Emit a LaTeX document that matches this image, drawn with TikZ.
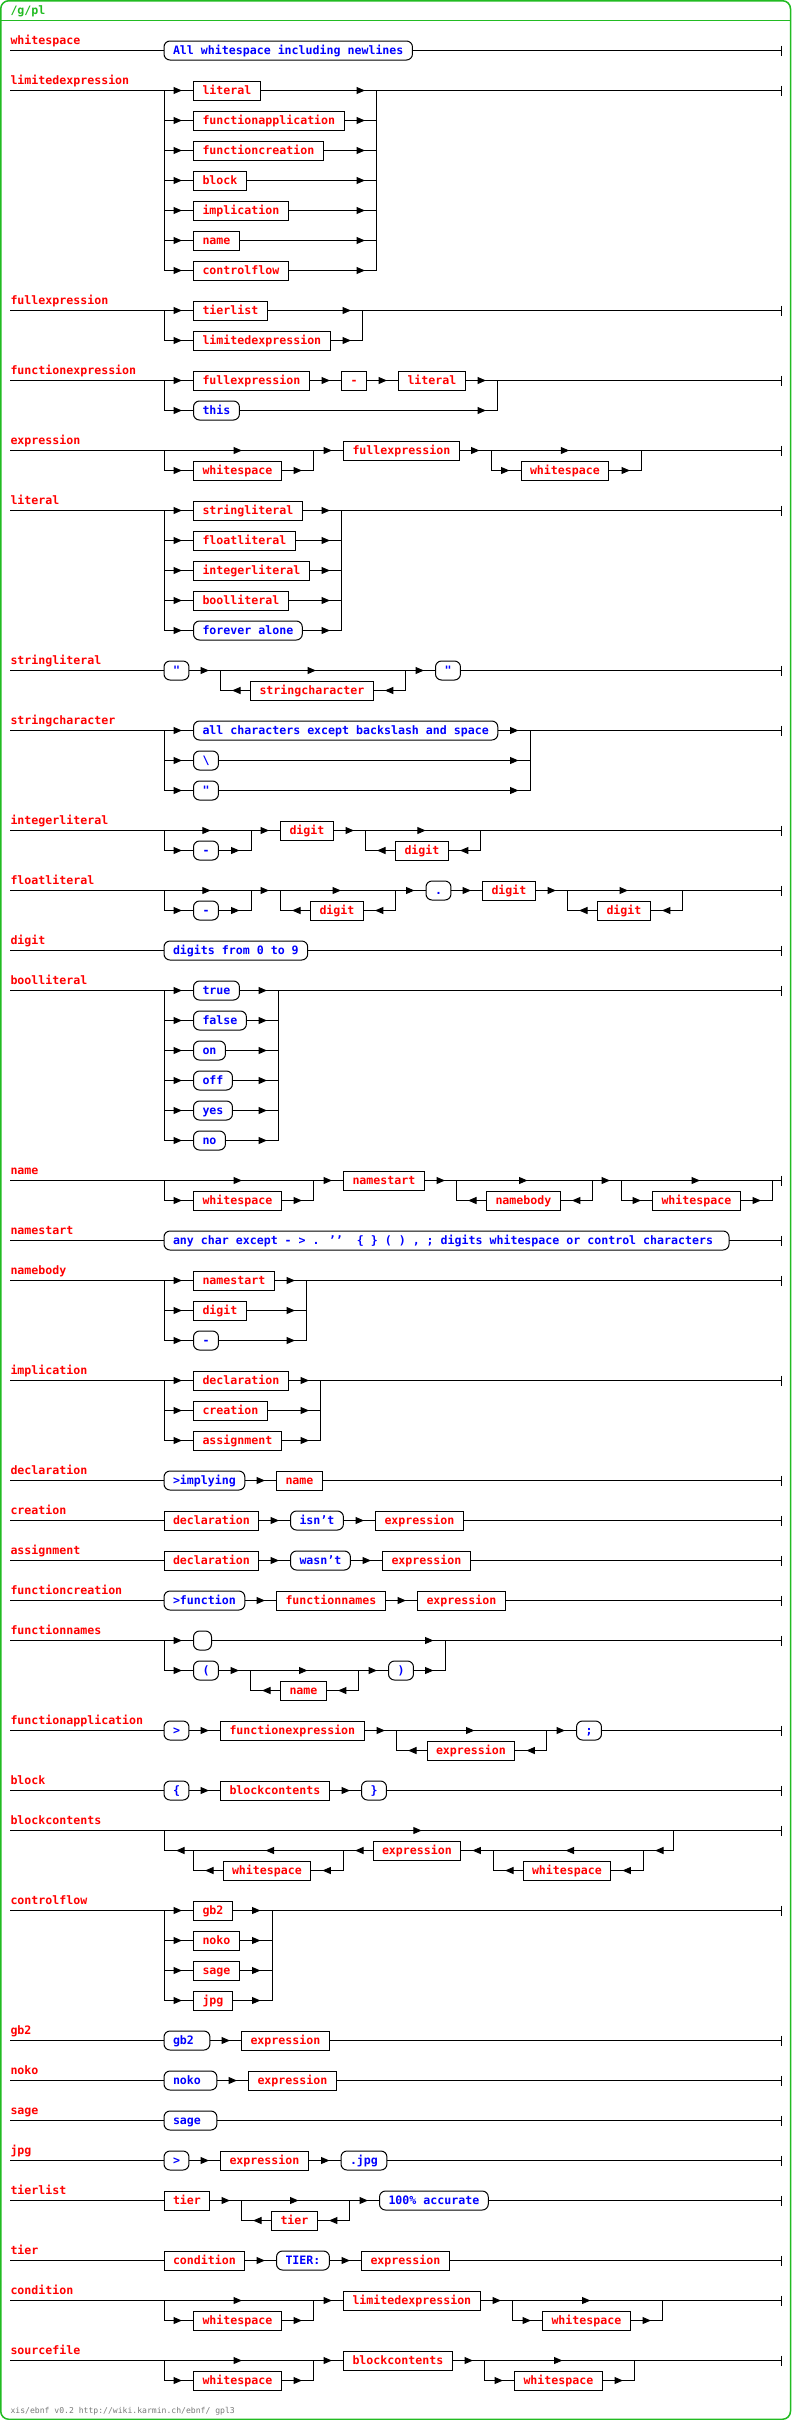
\documentclass[tikz,border=0pt]{standalone}
\usepackage{fontspec}
\usetikzlibrary{arrows.meta,decorations.markings}
\newfontfamily\rrfont{DejaVu Sans Mono}
\definecolor{ntred}{RGB}{255,0,0}
\definecolor{tmblue}{RGB}{0,0,255}
\definecolor{framegreen}{RGB}{34,187,34}
\definecolor{footgray}{RGB}{120,120,120}
\tikzset{
  nt/.style={draw, anchor=west, text=ntred, minimum height=19pt, inner xsep=9pt, inner ysep=0pt, text height=9pt, text depth=2pt, outer sep=0pt},
  tm/.style={nt, text=tmblue, rounded corners=6pt},
  lbl/.style={anchor=base west, text=ntred, inner sep=0pt},
  go/.style={decoration={markings, mark=at position -11.5pt with {\arrow{>}}}, postaction=decorate},
  mid/.style={decoration={markings, mark=at position .5 with {\pgftransformxshift{3pt}\arrow{>}}}, postaction=decorate},
  endbar/.style={-{Bar[width=10pt]}},
}

\begin{document}
\begin{tikzpicture}[x=1pt,y=-1pt,line width=1pt,>={Triangle[length=8.5pt,width=7pt]},font=\rrfont\bfseries\fontsize{11.6pt}{12pt}\selectfont]
  \useasboundingbox (0,0) rectangle (792,2420);
  \draw[framegreen, line width=1.5pt, rounded corners=8pt] (0.75,0.75) rectangle (790.5,2419.25);
  \draw[framegreen, line width=1.5pt] (0.75,20.5) -- (790.5,20.5);
  \node[anchor=base west, inner sep=0pt, text=framegreen] (title) at (10,14) {/g/pl};
  \coordinate (fin) at (782,0);

  \coordinate (r1) at (10,50.5);
  \node[lbl] (t1) at ([yshift=6.5pt]r1) {whitespace};
  \node[tm] (ws) at (164,50.5) {All whitespace including newlines};
  \draw (r1) -- (ws.west);
  \draw[endbar] (ws.east) -- (ws.east -| fin);

  \coordinate (r2) at (10,90.5);
  \coordinate (j2) at (164.5,90.5);
  \coordinate (k2) at (376.5,90.5);
  \node[lbl] (t2) at ([yshift=6.5pt]r2) {limitedexpression};
  \foreach \w [count=\i] in {literal,functionapplication,functioncreation,block,implication,name,controlflow}
    \node[nt] (le\i) at (193.5,60.5+30*\i) {\w};
  \draw[go] (r2) -- (le1.west);
  \foreach \i in {2,...,7} \draw[go] (j2) |- (le\i.west);
  \foreach \i in {1,...,7} \draw[go] (le\i.east) -- (le\i.east -| k2);
  \draw (k2) -- (le7.east -| k2);
  \draw[endbar] (k2) -- (k2 -| fin);

  \coordinate (r3) at (10,310.5);
  \coordinate (j3) at (164.5,310.5);
  \coordinate (k3) at (362.5,310.5);
  \node[lbl] (t3) at ([yshift=6.5pt]r3) {fullexpression};
  \node[nt] (fx1) at (193.5,310.5) {tierlist};
  \node[nt] (fx2) at (193.5,340.5) {limitedexpression};
  \draw[go] (r3) -- (fx1.west);
  \draw[go] (j3) |- (fx2.west);
  \draw[go] (fx1.east) -- (k3);
  \draw[go] (fx2.east) -- (fx2.east -| k3);
  \draw (k3) -- (fx2.east -| k3);
  \draw[endbar] (k3) -- (k3 -| fin);

  \coordinate (r4) at (10,380.5);
  \coordinate (j4) at (164.5,380.5);
  \coordinate (k4) at (497.5,380.5);
  \node[lbl] (t4) at ([yshift=6.5pt]r4) {functionexpression};
  \node[nt] (fe1) at (193.5,380.5) {fullexpression};
  \node[nt] (fe2) at (341.5,380.5) {-};
  \node[nt] (fe3) at (398.5,380.5) {literal};
  \node[tm] (fe4) at (193.5,410.5) {this};
  \draw[go] (r4) -- (fe1.west);
  \draw[go] (fe1.east) -- (fe2.west);
  \draw[go] (fe2.east) -- (fe3.west);
  \draw[go] (fe3.east) -- (k4);
  \draw[go] (j4) |- (fe4.west);
  \draw[go] (fe4.east) -- (fe4.east -| k4);
  \draw (k4) -- (fe4.east -| k4);
  \draw[endbar] (k4) -- (k4 -| fin);

  \coordinate (r5) at (10,450.5);
  \coordinate (j5a) at (164.5,450.5);
  \coordinate (k5a) at (313.5,450.5);
  \coordinate (j5b) at (491,450.5);
  \coordinate (k5b) at (641.5,450.5);
  \node[lbl] (t5) at ([yshift=6.5pt]r5) {expression};
  \node[nt] (ex1) at (193.5,470.5) {whitespace};
  \node[nt] (ex2) at (343.5,450.5) {fullexpression};
  \node[nt] (ex3) at (521,470.5) {whitespace};
  \draw (r5) -- (j5a);
  \draw[mid] (j5a) -- (k5a);
  \draw[go] (j5a) |- (ex1.west);
  \draw[go] (ex1.east) -- (ex1.east -| k5a);
  \draw (ex1.east -| k5a) -- (k5a);
  \draw[go] (k5a) -- (ex2.west);
  \draw[go] (ex2.east) -- (j5b);
  \draw[mid] (j5b) -- (k5b);
  \draw[go] (j5b) |- (ex3.west);
  \draw[go] (ex3.east) -- (ex3.east -| k5b);
  \draw (ex3.east -| k5b) -- (k5b);
  \draw[endbar] (k5b) -- (k5b -| fin);

  \coordinate (r6) at (10,510.5);
  \coordinate (j6) at (164.5,510.5);
  \coordinate (k6) at (341.5,510.5);
  \node[lbl] (t6) at ([yshift=6.5pt]r6) {literal};
  \foreach \w [count=\i] in {stringliteral,floatliteral,integerliteral,boolliteral}
    \node[nt] (li\i) at (193.5,480.5+30*\i) {\w};
  \node[tm] (li5) at (193.5,630.5) {forever alone};
  \draw[go] (r6) -- (li1.west);
  \foreach \i in {2,...,5} \draw[go] (j6) |- (li\i.west);
  \foreach \i in {1,...,5} \draw[go] (li\i.east) -- (li\i.east -| k6);
  \draw (k6) -- (li5.east -| k6);
  \draw[endbar] (k6) -- (k6 -| fin);

  \coordinate (r7) at (10,670.5);
  \coordinate (j7) at (220.5,670.5);
  \coordinate (k7) at (405.5,670.5);
  \node[lbl] (t7) at ([yshift=6.5pt]r7) {stringliteral};
  \node[tm] (sl1) at (164,670.5) {"};
  \node[nt] (sl2) at (250.5,690.5) {stringcharacter};
  \node[tm] (sl3) at (435.5,670.5) {"};
  \draw (r7) -- (sl1.west);
  \draw[go] (sl1.east) -- (j7);
  \draw[mid] (j7) -- (k7);
  \draw[go] (k7) |- (sl2.east);
  \draw[go] (sl2.west) -- (sl2.west -| j7);
  \draw (sl2.west -| j7) -- (j7);
  \draw[go] (k7) -- (sl3.west);
  \draw[endbar] (sl3.east) -- (sl3.east -| fin);

  \coordinate (r8) at (10,730.5);
  \coordinate (j8) at (164.5,730.5);
  \coordinate (k8) at (530,730.5);
  \node[lbl] (t8) at ([yshift=6.5pt]r8) {stringcharacter};
  \node[tm] (sc1) at (193.5,730.5) {all characters except backslash and space};
  \node[tm] (sc2) at (193.5,760.5) {\textbackslash};
  \node[tm] (sc3) at (193.5,790.5) {"};
  \draw[go] (r8) -- (sc1.west);
  \foreach \i in {2,3} \draw[go] (j8) |- (sc\i.west);
  \foreach \i in {1,2,3} \draw[go] (sc\i.east) -- (sc\i.east -| k8);
  \draw (k8) -- (sc3.east -| k8);
  \draw[endbar] (k8) -- (k8 -| fin);

  \coordinate (r9) at (10,830.5);
  \coordinate (j9a) at (164.5,830.5);
  \coordinate (k9a) at (251,830.5);
  \coordinate (j9b) at (365.5,830.5);
  \coordinate (k9b) at (480,830.5);
  \node[lbl] (t9) at ([yshift=6.5pt]r9) {integerliteral};
  \node[tm] (il1) at (193.5,850.5) {-};
  \node[nt] (il2) at (280.5,830.5) {digit};
  \node[nt] (il3) at (395.5,850.5) {digit};
  \draw (r9) -- (j9a);
  \draw[mid] (j9a) -- (k9a);
  \draw[go] (j9a) |- (il1.west);
  \draw[go] (il1.east) -- (il1.east -| k9a);
  \draw (il1.east -| k9a) -- (k9a);
  \draw[go] (k9a) -- (il2.west);
  \draw[go] (il2.east) -- (j9b);
  \draw[mid] (j9b) -- (k9b);
  \draw[go] (k9b) |- (il3.east);
  \draw[go] (il3.west) -- (il3.west -| j9b);
  \draw (il3.west -| j9b) -- (j9b);
  \draw[endbar] (k9b) -- (k9b -| fin);

  \coordinate (r10) at (10,890.5);
  \coordinate (j10a) at (164.5,890.5);
  \coordinate (k10a) at (251,890.5);
  \coordinate (j10b) at (280.5,890.5);
  \coordinate (k10b) at (395.5,890.5);
  \coordinate (j10c) at (567.5,890.5);
  \coordinate (k10c) at (682.5,890.5);
  \node[lbl] (t10) at ([yshift=6.5pt]r10) {floatliteral};
  \node[tm] (fl1) at (193.5,910.5) {-};
  \node[nt] (fl2) at (310.5,910.5) {digit};
  \node[tm] (fl3) at (426,890.5) {.};
  \node[nt] (fl4) at (482.5,890.5) {digit};
  \node[nt] (fl5) at (597.5,910.5) {digit};
  \draw (r10) -- (j10a);
  \draw[mid] (j10a) -- (k10a);
  \draw[go] (j10a) |- (fl1.west);
  \draw[go] (fl1.east) -- (fl1.east -| k10a);
  \draw (fl1.east -| k10a) -- (k10a);
  \draw[go] (k10a) -- (j10b);
  \draw[mid] (j10b) -- (k10b);
  \draw[go] (k10b) |- (fl2.east);
  \draw[go] (fl2.west) -- (fl2.west -| j10b);
  \draw (fl2.west -| j10b) -- (j10b);
  \draw[go] (k10b) -- (fl3.west);
  \draw[go] (fl3.east) -- (fl4.west);
  \draw[go] (fl4.east) -- (j10c);
  \draw[mid] (j10c) -- (k10c);
  \draw[go] (k10c) |- (fl5.east);
  \draw[go] (fl5.west) -- (fl5.west -| j10c);
  \draw (fl5.west -| j10c) -- (j10c);
  \draw[endbar] (k10c) -- (k10c -| fin);

  \coordinate (r11) at (10,950.5);
  \node[lbl] (t11) at ([yshift=6.5pt]r11) {digit};
  \node[tm] (dg) at (164,950.5) {digits from 0 to 9};
  \draw (r11) -- (dg.west);
  \draw[endbar] (dg.east) -- (dg.east -| fin);

  \coordinate (r12) at (10,990.5);
  \coordinate (j12) at (164.5,990.5);
  \coordinate (k12) at (278.5,990.5);
  \node[lbl] (t12) at ([yshift=6.5pt]r12) {boolliteral};
  \foreach \w [count=\i] in {true,false,on,off,yes,no}
    \node[tm] (bo\i) at (193.5,960.5+30*\i) {\w};
  \draw[go] (r12) -- (bo1.west);
  \foreach \i in {2,...,6} \draw[go] (j12) |- (bo\i.west);
  \foreach \i in {1,...,6} \draw[go] (bo\i.east) -- (bo\i.east -| k12);
  \draw (k12) -- (bo6.east -| k12);
  \draw[endbar] (k12) -- (k12 -| fin);

  \coordinate (r13) at (10,1180.5);
  \coordinate (j13a) at (164.5,1180.5);
  \coordinate (k13a) at (313.5,1180.5);
  \coordinate (j13b) at (456.5,1180.5);
  \coordinate (k13b) at (592.5,1180.5);
  \coordinate (j13c) at (621.5,1180.5);
  \coordinate (k13c) at (772.5,1180.5);
  \node[lbl] (t13) at ([yshift=6.5pt]r13) {name};
  \node[nt] (na1) at (193.5,1200.5) {whitespace};
  \node[nt] (na2) at (343.5,1180.5) {namestart};
  \node[nt] (na3) at (486.5,1200.5) {namebody};
  \node[nt] (na4) at (652.5,1200.5) {whitespace};
  \draw (r13) -- (j13a);
  \draw[mid] (j13a) -- (k13a);
  \draw[go] (j13a) |- (na1.west);
  \draw[go] (na1.east) -- (na1.east -| k13a);
  \draw (na1.east -| k13a) -- (k13a);
  \draw[go] (k13a) -- (na2.west);
  \draw[go] (na2.east) -- (j13b);
  \draw[mid] (j13b) -- (k13b);
  \draw[go] (k13b) |- (na3.east);
  \draw[go] (na3.west) -- (na3.west -| j13b);
  \draw (na3.west -| j13b) -- (j13b);
  \draw[go] (k13b) -- (j13c);
  \draw[mid] (j13c) -- (k13c);
  \draw[go] (j13c) |- (na4.west);
  \draw[go] (na4.east) -- (na4.east -| k13c);
  \draw (na4.east -| k13c) -- (k13c);
  \draw[endbar] (k13c) -- (k13c -| fin);

  \coordinate (r14) at (10,1240.5);
  \node[lbl] (t14) at ([yshift=6.5pt]r14) {namestart};
  \node[tm] (ns) at (164,1240.5) {any char except - > . ’’\ \ \{ \} ( ) , ; digits whitespace or control characters\hphantom{x}};
  \draw (r14) -- (ns.west);
  \draw[endbar] (ns.east) -- (ns.east -| fin);

  \coordinate (r15) at (10,1280.5);
  \coordinate (j15) at (164.5,1280.5);
  \coordinate (k15) at (306.5,1280.5);
  \node[lbl] (t15) at ([yshift=6.5pt]r15) {namebody};
  \node[nt] (nb1) at (193.5,1280.5) {namestart};
  \node[nt] (nb2) at (193.5,1310.5) {digit};
  \node[tm] (nb3) at (193.5,1340.5) {-};
  \draw[go] (r15) -- (nb1.west);
  \foreach \i in {2,3} \draw[go] (j15) |- (nb\i.west);
  \foreach \i in {1,2,3} \draw[go] (nb\i.east) -- (nb\i.east -| k15);
  \draw (k15) -- (nb3.east -| k15);
  \draw[endbar] (k15) -- (k15 -| fin);

  \coordinate (r16) at (10,1380.5);
  \coordinate (j16) at (164.5,1380.5);
  \coordinate (k16) at (320.5,1380.5);
  \node[lbl] (t16) at ([yshift=6.5pt]r16) {implication};
  \foreach \w [count=\i] in {declaration,creation,assignment}
    \node[nt] (im\i) at (193.5,1350.5+30*\i) {\w};
  \draw[go] (r16) -- (im1.west);
  \foreach \i in {2,3} \draw[go] (j16) |- (im\i.west);
  \foreach \i in {1,2,3} \draw[go] (im\i.east) -- (im\i.east -| k16);
  \draw (k16) -- (im3.east -| k16);
  \draw[endbar] (k16) -- (k16 -| fin);

  \coordinate (r17) at (10,1480.5);
  \node[lbl] (t17) at ([yshift=6.5pt]r17) {declaration};
  \node[tm] (de1) at (164,1480.5) {>implying};
  \node[nt] (de2) at (276.5,1480.5) {name};
  \draw (r17) -- (de1.west);
  \draw[go] (de1.east) -- (de2.west);
  \draw[endbar] (de2.east) -- (de2.east -| fin);

  \coordinate (r18) at (10,1520.5);
  \node[lbl] (t18) at ([yshift=6.5pt]r18) {creation};
  \node[nt] (cr1) at (164,1520.5) {declaration};
  \node[tm] (cr2) at (290.5,1520.5) {isn’t};
  \node[nt] (cr3) at (375.5,1520.5) {expression};
  \draw (r18) -- (cr1.west);
  \draw[go] (cr1.east) -- (cr2.west);
  \draw[go] (cr2.east) -- (cr3.west);
  \draw[endbar] (cr3.east) -- (cr3.east -| fin);

  \coordinate (r19) at (10,1560.5);
  \node[lbl] (t19) at ([yshift=6.5pt]r19) {assignment};
  \node[nt] (as1) at (164,1560.5) {declaration};
  \node[tm] (as2) at (290.5,1560.5) {wasn’t};
  \node[nt] (as3) at (382.5,1560.5) {expression};
  \draw (r19) -- (as1.west);
  \draw[go] (as1.east) -- (as2.west);
  \draw[go] (as2.east) -- (as3.west);
  \draw[endbar] (as3.east) -- (as3.east -| fin);

  \coordinate (r20) at (10,1600.5);
  \node[lbl] (t20) at ([yshift=6.5pt]r20) {functioncreation};
  \node[tm] (fc1) at (164,1600.5) {>function};
  \node[nt] (fc2) at (276.5,1600.5) {functionnames};
  \node[nt] (fc3) at (417.5,1600.5) {expression};
  \draw (r20) -- (fc1.west);
  \draw[go] (fc1.east) -- (fc2.west);
  \draw[go] (fc2.east) -- (fc3.west);
  \draw[endbar] (fc3.east) -- (fc3.east -| fin);

  \coordinate (r21) at (10,1640.5);
  \coordinate (j21) at (164.5,1640.5);
  \coordinate (k21) at (445,1640.5);
  \coordinate (c21a) at (250.5,1670.5);
  \coordinate (c21b) at (358.5,1670.5);
  \node[lbl] (t21) at ([yshift=6.5pt]r21) {functionnames};
  \node[tm] (fn1) at (193.5,1640.5) {};
  \node[tm] (fn2) at (193.5,1670.5) {(};
  \node[nt] (fn3) at (280.5,1690.5) {name};
  \node[tm] (fn4) at (388.5,1670.5) {)};
  \draw[go] (r21) -- (fn1.west);
  \draw[go] (fn1.east) -- (k21);
  \draw[go] (j21) |- (fn2.west);
  \draw[go] (fn2.east) -- (c21a);
  \draw[mid] (c21a) -- (c21b);
  \draw[go] (c21b) |- (fn3.east);
  \draw[go] (fn3.west) -- (fn3.west -| c21a);
  \draw (fn3.west -| c21a) -- (c21a);
  \draw[go] (c21b) -- (fn4.west);
  \draw[go] (fn4.east) -- (fn4.east -| k21);
  \draw (k21) -- (fn4.east -| k21);
  \draw[endbar] (k21) -- (k21 -| fin);

  \coordinate (r22) at (10,1730.5);
  \coordinate (j22) at (396.5,1730.5);
  \coordinate (k22) at (546.5,1730.5);
  \node[lbl] (t22) at ([yshift=6.5pt]r22) {functionapplication};
  \node[tm] (fa1) at (164,1730.5) {>};
  \node[nt] (fa2) at (220.5,1730.5) {functionexpression};
  \node[nt] (fa3) at (427,1750.5) {expression};
  \node[tm] (fa4) at (576.5,1730.5) {;};
  \draw (r22) -- (fa1.west);
  \draw[go] (fa1.east) -- (fa2.west);
  \draw[go] (fa2.east) -- (j22);
  \draw[mid] (j22) -- (k22);
  \draw[go] (k22) |- (fa3.east);
  \draw[go] (fa3.west) -- (fa3.west -| j22);
  \draw (fa3.west -| j22) -- (j22);
  \draw[go] (k22) -- (fa4.west);
  \draw[endbar] (fa4.east) -- (fa4.east -| fin);

  \coordinate (r23) at (10,1790.5);
  \node[lbl] (t23) at ([yshift=6.5pt]r23) {block};
  \node[tm] (bl1) at (164,1790.5) {\{};
  \node[nt] (bl2) at (220.5,1790.5) {blockcontents};
  \node[tm] (bl3) at (361.5,1790.5) {\}};
  \draw (r23) -- (bl1.west);
  \draw[go] (bl1.east) -- (bl2.west);
  \draw[go] (bl2.east) -- (bl3.west);
  \draw[endbar] (bl3.east) -- (bl3.east -| fin);

  \coordinate (r24) at (10,1830.5);
  \coordinate (j24) at (164.5,1830.5);
  \coordinate (k24) at (673,1830.5);
  \coordinate (a24) at (643.5,1850.5);
  \coordinate (b24) at (493.5,1850.5);
  \coordinate (c24) at (343.5,1850.5);
  \coordinate (d24) at (193.5,1850.5);
  \node[lbl] (t24) at ([yshift=6.5pt]r24) {blockcontents};
  \node[nt] (bc1) at (523,1870.5) {whitespace};
  \node[nt] (bc2) at (373,1850.5) {expression};
  \node[nt] (bc3) at (223,1870.5) {whitespace};
  \draw (r24) -- (j24);
  \draw[mid] (j24) -- (k24);
  \draw[endbar] (k24) -- (k24 -| fin);
  \draw[go] (k24) |- (a24);
  \draw[mid] (a24) -- (b24);
  \draw[go] (a24) |- (bc1.east);
  \draw[go] (bc1.west) -- (bc1.west -| b24);
  \draw (bc1.west -| b24) -- (b24);
  \draw[go] (b24) -- (bc2.east);
  \draw[go] (bc2.west) -- (c24);
  \draw[mid] (c24) -- (d24);
  \draw[go] (c24) |- (bc3.east);
  \draw[go] (bc3.west) -- (bc3.west -| d24);
  \draw (bc3.west -| d24) -- (d24);
  \draw[go] (d24) -- (d24 -| j24);
  \draw (d24 -| j24) -- (j24);

  \coordinate (r25) at (10,1910.5);
  \coordinate (j25) at (164.5,1910.5);
  \coordinate (k25) at (272,1910.5);
  \node[lbl] (t25) at ([yshift=6.5pt]r25) {controlflow};
  \foreach \w [count=\i] in {gb2,noko,sage,jpg}
    \node[nt] (cf\i) at (193.5,1880.5+30*\i) {\w};
  \draw[go] (r25) -- (cf1.west);
  \foreach \i in {2,3,4} \draw[go] (j25) |- (cf\i.west);
  \foreach \i in {1,...,4} \draw[go] (cf\i.east) -- (cf\i.east -| k25);
  \draw (k25) -- (cf4.east -| k25);
  \draw[endbar] (k25) -- (k25 -| fin);

  \coordinate (r26) at (10,2040.5);
  \node[lbl] (t26) at ([yshift=6.5pt]r26) {gb2};
  \node[tm] (gb1) at (164,2040.5) {gb2\hphantom{x}};
  \node[nt] (gb2) at (241.5,2040.5) {expression};
  \draw (r26) -- (gb1.west);
  \draw[go] (gb1.east) -- (gb2.west);
  \draw[endbar] (gb2.east) -- (gb2.east -| fin);

  \coordinate (r27) at (10,2080.5);
  \node[lbl] (t27) at ([yshift=6.5pt]r27) {noko};
  \node[tm] (nk1) at (164,2080.5) {noko\hphantom{x}};
  \node[nt] (nk2) at (248.5,2080.5) {expression};
  \draw (r27) -- (nk1.west);
  \draw[go] (nk1.east) -- (nk2.west);
  \draw[endbar] (nk2.east) -- (nk2.east -| fin);

  \coordinate (r28) at (10,2120.5);
  \node[lbl] (t28) at ([yshift=6.5pt]r28) {sage};
  \node[tm] (sg1) at (164,2120.5) {sage\hphantom{x}};
  \draw (r28) -- (sg1.west);
  \draw[endbar] (sg1.east) -- (sg1.east -| fin);

  \coordinate (r29) at (10,2160.5);
  \node[lbl] (t29) at ([yshift=6.5pt]r29) {jpg};
  \node[tm] (jp1) at (164,2160.5) {>};
  \node[nt] (jp2) at (220.5,2160.5) {expression};
  \node[tm] (jp3) at (341,2160.5) {.jpg};
  \draw (r29) -- (jp1.west);
  \draw[go] (jp1.east) -- (jp2.west);
  \draw[go] (jp2.east) -- (jp3.west);
  \draw[endbar] (jp3.east) -- (jp3.east -| fin);

  \coordinate (r30) at (10,2200.5);
  \coordinate (j30) at (241.5,2200.5);
  \coordinate (k30) at (349.5,2200.5);
  \node[lbl] (t30) at ([yshift=6.5pt]r30) {tierlist};
  \node[nt] (tl1) at (164,2200.5) {tier};
  \node[nt] (tl2) at (271.5,2220.5) {tier};
  \node[tm] (tl3) at (379.5,2200.5) {100\% accurate};
  \draw (r30) -- (tl1.west);
  \draw[go] (tl1.east) -- (j30);
  \draw[mid] (j30) -- (k30);
  \draw[go] (k30) |- (tl2.east);
  \draw[go] (tl2.west) -- (tl2.west -| j30);
  \draw (tl2.west -| j30) -- (j30);
  \draw[go] (k30) -- (tl3.west);
  \draw[endbar] (tl3.east) -- (tl3.east -| fin);

  \coordinate (r31) at (10,2260.5);
  \node[lbl] (t31) at ([yshift=6.5pt]r31) {tier};
  \node[nt] (ti1) at (164,2260.5) {condition};
  \node[tm] (ti2) at (276.5,2260.5) {TIER:};
  \node[nt] (ti3) at (361.5,2260.5) {expression};
  \draw (r31) -- (ti1.west);
  \draw[go] (ti1.east) -- (ti2.west);
  \draw[go] (ti2.east) -- (ti3.west);
  \draw[endbar] (ti3.east) -- (ti3.east -| fin);

  \coordinate (r32) at (10,2300.5);
  \coordinate (j32a) at (164.5,2300.5);
  \coordinate (k32a) at (313.5,2300.5);
  \coordinate (j32b) at (512.5,2300.5);
  \coordinate (k32b) at (662.5,2300.5);
  \node[lbl] (t32) at ([yshift=6.5pt]r32) {condition};
  \node[nt] (co1) at (193.5,2320.5) {whitespace};
  \node[nt] (co2) at (343.5,2300.5) {limitedexpression};
  \node[nt] (co3) at (542.5,2320.5) {whitespace};
  \draw (r32) -- (j32a);
  \draw[mid] (j32a) -- (k32a);
  \draw[go] (j32a) |- (co1.west);
  \draw[go] (co1.east) -- (co1.east -| k32a);
  \draw (co1.east -| k32a) -- (k32a);
  \draw[go] (k32a) -- (co2.west);
  \draw[go] (co2.east) -- (j32b);
  \draw[mid] (j32b) -- (k32b);
  \draw[go] (j32b) |- (co3.west);
  \draw[go] (co3.east) -- (co3.east -| k32b);
  \draw (co3.east -| k32b) -- (k32b);
  \draw[endbar] (k32b) -- (k32b -| fin);

  \coordinate (r33) at (10,2360.5);
  \coordinate (j33a) at (164.5,2360.5);
  \coordinate (k33a) at (313.5,2360.5);
  \coordinate (j33b) at (484.5,2360.5);
  \coordinate (k33b) at (634.5,2360.5);
  \node[lbl] (t33) at ([yshift=6.5pt]r33) {sourcefile};
  \node[nt] (so1) at (193.5,2380.5) {whitespace};
  \node[nt] (so2) at (343.5,2360.5) {blockcontents};
  \node[nt] (so3) at (514.5,2380.5) {whitespace};
  \draw (r33) -- (j33a);
  \draw[mid] (j33a) -- (k33a);
  \draw[go] (j33a) |- (so1.west);
  \draw[go] (so1.east) -- (so1.east -| k33a);
  \draw (so1.east -| k33a) -- (k33a);
  \draw[go] (k33a) -- (so2.west);
  \draw[go] (so2.east) -- (j33b);
  \draw[mid] (j33b) -- (k33b);
  \draw[go] (j33b) |- (so3.west);
  \draw[go] (so3.east) -- (so3.east -| k33b);
  \draw (so3.east -| k33b) -- (k33b);
  \draw[endbar] (k33b) -- (k33b -| fin);

  \node[anchor=base west, inner sep=0pt, text=footgray, font=\rrfont\fontsize{8.1pt}{9pt}\selectfont] (foot) at (10,2413) {xis/ebnf v0.2 http://wiki.karmin.ch/ebnf/ gpl3};
\end{tikzpicture}
\end{document}
